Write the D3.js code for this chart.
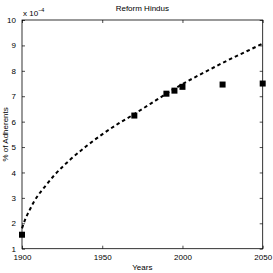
<!DOCTYPE html>
<html>
<head>
<meta charset="UTF-8">
<script src="https://d3js.org/d3.v7.min.js"></script>
<style>
  body { margin: 0; background: #fff; }
  text { font-family: "Liberation Sans", Arial, sans-serif; fill: #000; }
</style>
</head>
<body>
<div id="chart"></div>
<script>
// observed data (units of 1e-4 %)
var years = [1900, 1970, 1990, 1995, 2000, 2025, 2050];
var adherents = [1.55, 6.24, 7.1, 7.22, 7.37, 7.46, 7.5];

// fitted curve
var fitYears = [1900, 1902, 1905, 1907, 1910, 1915, 1920, 1930, 1940, 1950, 1960, 1970, 1980, 1990, 2000, 2010, 2020, 2030, 2040, 2050];
var fitValues = [1.8, 2.15, 2.55, 2.8, 3.1, 3.5, 3.88, 4.5, 5.03, 5.5, 5.92, 6.3, 6.7, 7.1, 7.48, 7.82, 8.15, 8.47, 8.77, 9.07];

var xTicks = [1900, 1950, 2000, 2050];
var yTicks = [1, 2, 3, 4, 5, 6, 7, 8, 9, 10];

var W = 273, H = 273;
var m = {left: 22, right: 10.3, top: 20, bottom: 24.3};

var svg = d3.select("#chart").append("svg")
    .attr("width", W)
    .attr("height", H);

var x = d3.scaleLinear().domain([1900, 2050]).range([m.left, W - m.right]);
var y = d3.scaleLinear().domain([1, 10]).range([H - m.bottom, m.top]);

// axes box
svg.append("rect")
    .attr("x", x(1900)).attr("y", y(10))
    .attr("width", x(2050) - x(1900))
    .attr("height", y(1) - y(10))
    .attr("fill", "none")
    .attr("stroke", "#000")
    .attr("stroke-width", 0.8);

var tl = 3;
// x ticks (inside, bottom and top)
svg.append("g").attr("transform", "translate(0," + y(1) + ")")
    .call(d3.axisBottom(x).tickValues(xTicks).tickSizeInner(-tl).tickSizeOuter(0).tickPadding(6).tickFormat(d3.format("d")))
    .call(g => g.select(".domain").remove());
svg.append("g").attr("transform", "translate(0," + y(10) + ")")
    .call(d3.axisTop(x).tickValues(xTicks).tickSizeInner(-tl).tickSizeOuter(0).tickFormat(""))
    .call(g => g.select(".domain").remove());
// y ticks (inside, left and right)
svg.append("g").attr("transform", "translate(" + x(1900) + ",0)")
    .call(d3.axisLeft(y).tickValues(yTicks).tickSizeInner(-tl).tickSizeOuter(0).tickPadding(6))
    .call(g => g.select(".domain").remove());
svg.append("g").attr("transform", "translate(" + x(2050) + ",0)")
    .call(d3.axisRight(y).tickValues(yTicks).tickSizeInner(-tl).tickSizeOuter(0).tickFormat(""))
    .call(g => g.select(".domain").remove());

svg.selectAll(".tick line").attr("stroke", "#000").attr("stroke-width", 0.7);
svg.selectAll(".tick text")
    .attr("font-family", "'Liberation Sans', Arial, sans-serif")
    .attr("font-size", 8);

// fitted curve
var line = d3.line()
    .x((d, i) => x(fitYears[i]))
    .y(d => y(d))
    .curve(d3.curveMonotoneX);

svg.append("path")
    .datum(fitValues)
    .attr("d", line)
    .attr("fill", "none")
    .attr("stroke", "#000")
    .attr("stroke-width", 2)
    .attr("stroke-dasharray", "3.5,3");

// data points
var s = 6;
svg.append("g").selectAll("rect")
    .data(adherents)
    .enter()
    .append("rect")
    .attr("x", (d, i) => x(years[i]) - s / 2)
    .attr("y", d => y(d) - s / 2)
    .attr("width", s)
    .attr("height", s)
    .attr("fill", "#000");

// title and labels
svg.append("text")
    .attr("x", (x(1900) + x(2050)) / 2)
    .attr("y", 11)
    .attr("text-anchor", "middle")
    .attr("font-size", 8)
    .text("Reform Hindus");

svg.append("text")
    .attr("x", (x(1900) + x(2050)) / 2)
    .attr("y", 270)
    .attr("text-anchor", "middle")
    .attr("font-size", 8)
    .text("Years");

svg.append("text")
    .attr("transform", "translate(8," + (y(1) + y(10)) / 2 + ") rotate(-90)")
    .attr("text-anchor", "middle")
    .attr("font-size", 8)
    .text("% of Adherents");

// exponent label
var ex = svg.append("text")
    .attr("x", x(1900) + 1)
    .attr("y", 16)
    .attr("font-size", 8);
ex.append("tspan").text("x 10");
ex.append("tspan").attr("dy", -4).attr("font-size", 5.5).text("−4");
</script>
</body>
</html>
